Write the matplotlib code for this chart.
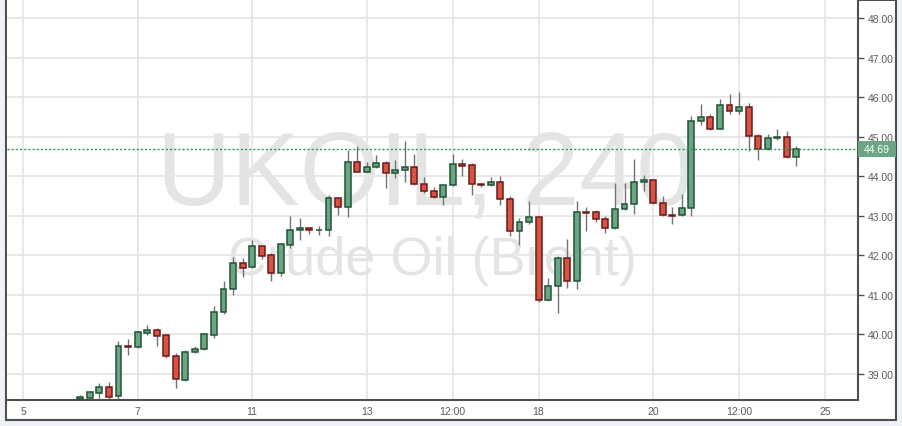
import matplotlib
matplotlib.use("Agg")
import matplotlib.pyplot as plt
from matplotlib.patches import Rectangle
import matplotlib.transforms as mtransforms

# ---- data (4h candles, UKOIL) ----
first_index = 6  # candle offset from start of day "5" (earlier candles lie below the view)
opens  = [38.36, 38.39, 38.52, 38.65, 38.42, 39.70, 39.67, 40.04, 40.10, 39.97,
          39.44, 38.85, 39.54, 39.62, 39.99, 40.55, 41.14, 41.79, 41.69, 42.23,
          42.00, 41.55, 42.27, 42.63, 42.68, 42.63, 42.63, 43.44, 43.21, 44.35,
          44.11, 44.23, 44.33, 44.07, 44.15, 44.23, 43.80, 43.62, 43.47, 43.77,
          44.30, 44.28, 43.80, 43.77, 43.85, 43.42, 42.61, 42.83, 42.96, 40.86,
          41.21, 41.92, 41.34, 43.10, 43.09, 42.91, 42.68, 43.16, 43.29, 43.85,
          43.90, 43.31, 43.02, 43.01, 43.19, 45.39, 45.49, 45.21, 45.80, 45.65,
          45.75, 45.01, 44.68, 44.96, 44.99, 44.48]
highs  = [38.47, 38.57, 38.76, 38.78, 39.82, 39.88, 40.08, 40.22, 40.15, 40.00,
          39.51, 39.59, 39.69, 40.03, 40.71, 41.35, 41.95, 41.93, 42.38, 42.24,
          42.05, 42.32, 42.99, 42.94, 42.71, 42.74, 43.52, 43.47, 44.67, 44.77,
          44.35, 44.54, 44.38, 44.41, 44.89, 44.56, 43.97, 43.72, 43.78, 44.56,
          44.45, 44.33, 43.81, 43.97, 44.00, 43.49, 42.93, 43.37, 42.97, 41.41,
          41.99, 42.42, 43.37, 43.21, 43.14, 42.99, 43.82, 43.82, 44.43, 44.02,
          43.91, 43.49, 43.21, 43.55, 45.52, 45.83, 45.59, 45.97, 46.08, 46.13,
          45.85, 45.06, 45.06, 45.19, 45.14, 44.76]
lows   = [38.30, 38.35, 38.37, 38.35, 38.36, 39.48, 39.66, 39.99, 39.71, 39.39,
          38.64, 38.82, 39.53, 39.61, 39.89, 40.52, 41.00, 41.45, 41.68, 41.91,
          41.35, 41.48, 42.17, 42.39, 42.54, 42.52, 42.49, 43.03, 42.97, 44.10,
          44.10, 44.22, 43.71, 43.96, 43.85, 43.79, 43.57, 43.46, 43.26, 43.76,
          44.01, 43.53, 43.72, 43.75, 43.26, 42.49, 42.25, 42.78, 40.81, 40.85,
          40.53, 41.16, 41.14, 42.61, 42.83, 42.56, 42.67, 43.15, 43.04, 43.62,
          43.30, 42.99, 42.78, 43.00, 42.99, 45.31, 45.18, 45.20, 45.59, 45.59,
          44.63, 44.40, 44.67, 44.91, 44.47, 44.25]
closes = [38.41, 38.53, 38.65, 38.41, 39.69, 39.67, 40.05, 40.10, 39.96, 39.44,
          38.86, 39.54, 39.62, 40.00, 40.55, 41.14, 41.79, 41.68, 42.23, 41.99,
          41.55, 42.28, 42.64, 42.68, 42.63, 42.65, 43.44, 43.21, 44.35, 44.11,
          44.23, 44.33, 44.07, 44.15, 44.23, 43.80, 43.62, 43.47, 43.77, 44.30,
          44.27, 43.80, 43.77, 43.85, 43.42, 42.61, 42.83, 42.96, 40.86, 41.21,
          41.92, 41.34, 43.09, 43.08, 42.91, 42.68, 43.16, 43.29, 43.85, 43.90,
          43.31, 43.01, 43.00, 43.19, 45.39, 45.49, 45.21, 45.80, 45.65, 45.75,
          45.01, 44.68, 44.96, 44.99, 44.48, 44.69]
last_price = 44.69

tick_index  = [0, 12, 24, 36, 45, 54, 66, 75, 84]
tick_labels = ['5', '7', '11', '13', '12:00', '18', '20', '12:00', '25']
price_ticks = [39, 40, 41, 42, 43, 44, 45, 46, 47, 48]

# ---- style ----
UP_FILL, UP_EDGE = '#6ba583', '#225437'
DN_FILL, DN_EDGE = '#d75442', '#6b1a1a'
WICK = '#737375'
GRID = '#e6e6e6'
FRAME = '#4f4f4f'
TXT = '#5a5a5a'
FONT = 'Liberation Sans'

W, H = 903, 427
fig = plt.figure(figsize=(W / 100, H / 100), dpi=100)
fig.patch.set_facecolor('#eef2f6')

def fx(px):
    return px / W

def fy(py):
    return (H - py) / H

# outer white frame
fig.add_artist(Rectangle((fx(6.5), fy(420.5)), fx(890), 420 / H,
                         transform=fig.transFigure, facecolor='white',
                         edgecolor=FRAME, lw=1.5, zorder=0))

ax = fig.add_axes([fx(7), fy(401), fx(858) - fx(7), fy(1) - fy(401)])
ax.set_facecolor('white')
ax.set_xlim(-1.676, 87.456)
ax.set_ylim(38.331, 48.466)

for s in ('left', 'top'):
    ax.spines[s].set_visible(False)
for s in ('right', 'bottom'):
    ax.spines[s].set_color(FRAME)
    ax.spines[s].set_linewidth(1.5)

ax.set_axisbelow(True)
ax.grid(True, color=GRID, lw=1.3, zorder=0.5)

ax.set_xticks(tick_index)
ax.set_xticklabels(tick_labels, fontname=FONT, fontsize=7.5, color=TXT)
ax.tick_params(axis='x', length=0, pad=4)

ax.yaxis.tick_right()
ax.set_yticks(price_ticks)
ax.set_yticklabels([f'{v:.2f}' for v in price_ticks], fontname=FONT,
                   fontsize=7.5, color=TXT)
ax.tick_params(axis='y', length=4, width=1, color=FRAME, pad=3)

# watermark
ax.text(0.492, 0.49, 'UKOIL, 240', transform=ax.transAxes, ha='center',
        va='baseline', fontsize=74, fontname=FONT, color='#e4e4e4', zorder=0.1)
ax.text(0.5, 0.315, 'Crude Oil (Brent)', transform=ax.transAxes, ha='center',
        va='baseline', fontsize=39, fontname=FONT, color='#e4e4e4', zorder=0.1)

# candles
xs = [first_index + i for i in range(len(opens))]
ax.vlines(xs, lows, highs, color=WICK, lw=1, zorder=2)
bottoms, heights, fills, edges = [], [], [], []
for o, c in zip(opens, closes):
    up = c >= o
    bottoms.append(min(o, c))
    heights.append(max(abs(c - o), 0.012))
    fills.append(UP_FILL if up else DN_FILL)
    edges.append(UP_EDGE if up else DN_EDGE)
ax.bar(xs, heights, bottom=bottoms, width=0.62, color=fills,
       edgecolor=edges, linewidth=1.1, zorder=3)

# last price line + label
ax.axhline(last_price, color='#2f9458', lw=1.0, ls=(0, (1.5, 1.5)), zorder=4)
trans = mtransforms.blended_transform_factory(ax.transAxes, ax.transData)
axw = 858 - 7
ax.add_patch(Rectangle((1.0, last_price - 0.197), 38 / axw, 0.394,
                       transform=trans, facecolor=UP_FILL, edgecolor='none',
                       clip_on=False, zorder=5))
ax.text(1.0 + 19 / axw, last_price, f'{last_price:.2f}', transform=trans,
        ha='center', va='center', fontsize=7.5, fontname=FONT, color='white',
        clip_on=False, zorder=6)

fig.savefig('out.png', dpi=100, facecolor=fig.get_facecolor())
